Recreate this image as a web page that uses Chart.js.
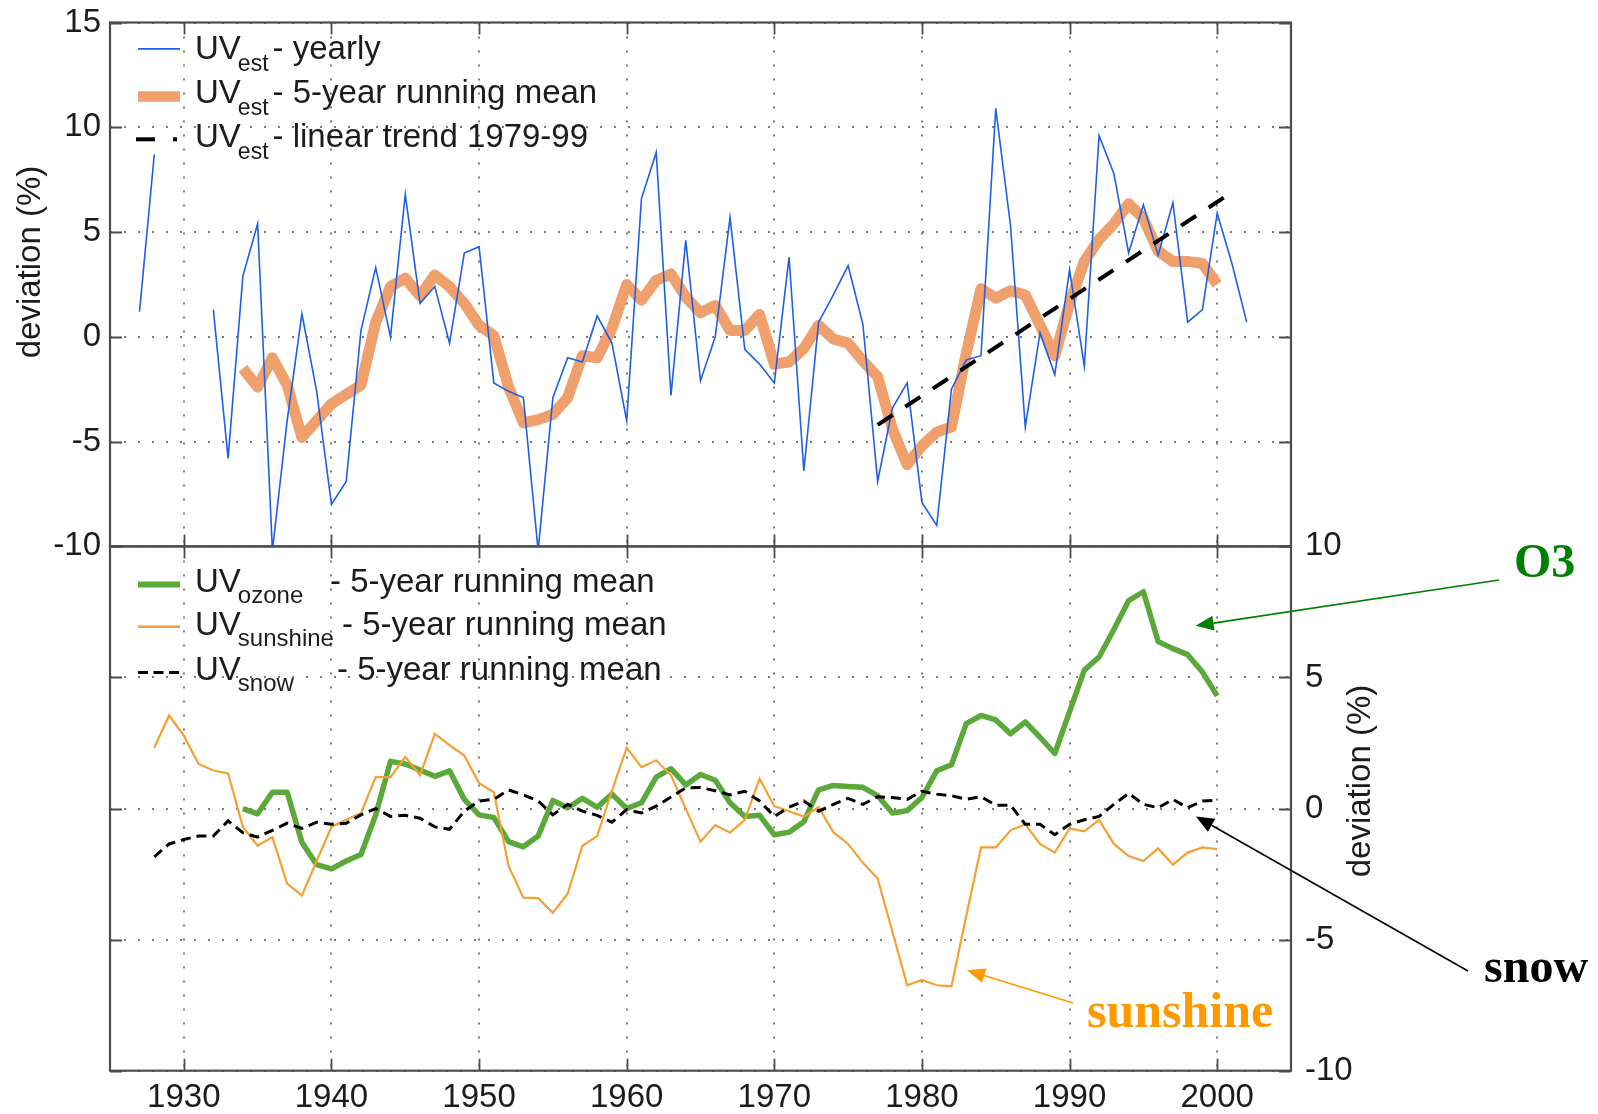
<!DOCTYPE html>
<html><head><meta charset="utf-8">
<script src="https://cdn.jsdelivr.net/npm/chart.js@4.4.1/dist/chart.umd.min.js"></script>
<style>
html,body{margin:0;padding:0;background:#fff;}
#wrap{position:relative;width:1598px;height:1114px;background:#fff;}
canvas{position:absolute;left:0;top:0;}
</style></head><body>
<div id="wrap"><canvas id="c1" width="1598" height="1114"></canvas><canvas id="c2" width="1598" height="1114"></canvas></div>
<script>
// ---------------- DATA ----------------
const xTicks = [1930, 1940, 1950, 1960, 1970, 1980, 1990, 2000];
const xTickLabels = ['1930', '1940', '1950', '1960', '1970', '1980', '1990', '2000'];
const topYTicks = [-10, -5, 0, 5, 10, 15];
const topYTickLabels = ['-10', '-5', '0', '5', '10', '15'];
const botYTicks = [-10, -5, 0, 5, 10];
const botYTickLabels = ['-10', '-5', '0', '5', '10'];

// UVest yearly, 1927..2002 (null = no data)
const yearlyStart = 1927;
const uvYearly = [1.2, 8.7, null, null, null, 1.3, -5.8, 2.9, 5.4, -10.2,
  -4.0, 1.1, -2.6, -8.0, -6.9, 0.3, 3.3, 0.0, 6.8, 1.6,
  2.4, -0.3, 4.0, 4.3, -2.2, -2.6, -2.9, -10.2, -2.9, -1.0,
  -1.2, 1.0, -0.3, -4.0, 6.6, 8.8, -2.8, 4.6, -2.1, 0.0,
  5.7, -0.6, -1.3, -2.2, 3.8, -6.4, 0.7, 2.0, 3.4, 0.6,
  -6.9, -3.4, -2.2, -7.9, -9.0, -2.5, -1.1, -0.9, 10.9, 5.3,
  -4.3, 0.2, -1.8, 3.2, -1.4, 9.6, 7.8, 4.0, 6.3, 3.9,
  6.4, 0.7, 1.3, 5.9, 3.5, 0.7];

// UVest 5-year running mean, 1934..2000
const meanStart = 1934;
const uvMean = [-1.5, -2.4, -1.0, -2.3, -4.8, -4.0, -3.2, -2.75, -2.3, 0.7,
  2.4, 2.8, 1.95, 2.95, 2.4, 1.6, 0.55, 0.05, -2.4, -4.1,
  -3.95, -3.7, -2.9, -0.9, -1.0, 0.4, 2.5, 1.75, 2.7, 3.0,
  1.9, 1.15, 1.5, 0.3, 0.3, 1.07, -1.3, -1.2, -0.55, 0.55,
  -0.1, -0.3, -1.15, -1.9, -4.4, -6.1, -5.2, -4.55, -4.3, -0.8,
  2.3, 1.85, 2.2, 2.0, 0.55, -0.9, 1.6, 3.6, 4.65, 5.4,
  6.35, 5.65, 4.1, 3.6, 3.6, 3.5, 2.5];

// UVest linear trend 1979-99 (drawn end points)
const trendYears = [1977, 2001];
const trendValues = [-4.2, 6.9];

// UVozone 5-year running mean, 1934..2000
const ozoneStart = 1934;
const uvOzone = [0.0, -0.2, 0.62, 0.62, -1.29, -2.14, -2.3, -2.0, -1.75, -0.24,
  1.8, 1.7, 1.47, 1.23, 1.44, 0.35, -0.24, -0.34, -1.26, -1.46,
  -1.05, 0.31, 0.03, 0.39, 0.05, 0.55, 0.0, 0.22, 1.2, 1.52,
  0.9, 1.3, 1.08, 0.22, -0.3, -0.26, -1.0, -0.9, -0.5, 0.71,
  0.88, 0.84, 0.81, 0.49, -0.17, -0.08, 0.42, 1.44, 1.67, 3.24,
  3.55, 3.38, 2.85, 3.31, 2.72, 2.1, 3.7, 5.28, 5.78, 6.83,
  7.93, 8.27, 6.37, 6.1, 5.87, 5.21, 4.3];

// UVsunshine 5-year running mean, 1928..2000
const sunStart = 1928;
const uvSunshine = [2.32, 3.55, 2.78, 1.7, 1.45, 1.34, -0.7, -1.42, -1.09, -2.86,
  -3.32, -2.0, -0.7, -0.43, -0.17, 1.2, 1.2, 1.97, 1.27, 2.85,
  2.42, 2.02, 0.97, 0.62, -2.2, -3.4, -3.42, -3.98, -3.25, -1.42,
  -1.05, 0.68, 2.32, 1.58, 1.84, 1.27, 0.0, -1.27, -0.63, -0.92,
  -0.43, 1.14, 0.09, -0.1, -0.3, 0.05, -0.9, -1.35, -2.07, -2.67,
  -4.7, -6.74, -6.54, -6.74, -6.78, -4.1, -1.48, -1.48, -0.83, -0.6,
  -1.35, -1.68, -0.76, -0.87, -0.43, -1.35, -1.81, -2.0, -1.52, -2.14,
  -1.68, -1.48, -1.55];

// UVsnow 5-year running mean, 1928..2000
const snowStart = 1928;
const uvSnow = [-1.84, -1.35, -1.18, -1.05, -1.05, -0.47, -0.92, -1.09, -0.83, -0.56,
  -0.76, -0.52, -0.6, -0.56, -0.24, 0.0, -0.3, -0.26, -0.37, -0.7,
  -0.79, -0.1, 0.29, 0.35, 0.71, 0.52, 0.29, -0.24, 0.16, -0.1,
  -0.26, -0.52, -0.04, -0.17, 0.09, 0.44, 0.79, 0.8, 0.68, 0.52,
  0.66, 0.29, -0.3, 0.05, 0.29, -0.1, 0.16, 0.39, 0.16, 0.45,
  0.42, 0.35, 0.66, 0.55, 0.49, 0.35, 0.45, 0.13, 0.13, -0.6,
  -0.6, -1.0, -0.6, -0.43, -0.3, 0.16, 0.58, 0.16, 0.03, 0.35,
  0.03, 0.29, 0.31];

// Annotations (label, arrow tip in data coordinates)
const annLabels = ['O3', 'snow', 'sunshine'];
const annTipYear = [1998.54, 1998.56, 1983.05];
const annTipValue = [6.97, -0.3, -6.17];

// ---------------- STYLE ----------------
const FONT = "'Liberation Sans', Arial, Helvetica, sans-serif";
const SERIF = "'Liberation Serif', 'Times New Roman', serif";
const TXT = '#1c1c1c';
const C_BLUE = '#1f5fe3';
const C_SALMON = '#efa06c';
const C_GREEN = '#5aa93a';
const C_SUN = '#f4a033';
const FRAME = '#4d4d4d';
const GRIDC = '#7a7a7a';
const GRIDDASH = [2, 12];
const LEG_SIZE = 33;

function pts(start, arr) { return arr.map((v, i) => ({ x: start + i, y: v })); }
function pairPts(xs, ys) { return xs.map((x, i) => ({ x: x, y: ys[i] })); }

const framePlugin = {
  id: 'frame',
  afterDraw(chart, args, opts) {
    const { ctx, chartArea: a, scales } = chart;
    const ys = scales[opts.yId];
    ctx.save();
    ctx.strokeStyle = FRAME;
    ctx.lineWidth = 1.8;
    const TL = 12;
    ctx.beginPath();
    xTicks.forEach(v => {
      const px = Math.round(scales.x.getPixelForValue(v)) + 0.5;
      ctx.moveTo(px, a.top); ctx.lineTo(px, a.top + TL);
      ctx.moveTo(px, a.bottom); ctx.lineTo(px, a.bottom - TL);
    });
    opts.yTicks.forEach(v => {
      const py = Math.round(ys.getPixelForValue(v)) + 0.5;
      ctx.moveTo(a.left, py); ctx.lineTo(a.left + TL, py);
      ctx.moveTo(a.right, py); ctx.lineTo(a.right - TL, py);
    });
    ctx.stroke();
    ctx.lineWidth = 2.2;
    ctx.strokeRect(a.left, a.top, a.right - a.left, a.bottom - a.top);
    ctx.restore();
  }
};

const legendPlugin = {
  id: 'uvlegend',
  afterDraw(chart, args, opts) {
    const { ctx, chartArea: a } = chart;
    ctx.save();
    opts.items.forEach(it => {
      const by = a.top + it.dy;
      const sy = by - it.sy;
      ctx.beginPath();
      ctx.strokeStyle = it.color;
      ctx.lineWidth = it.width;
      ctx.setLineDash(it.dash || []);
      ctx.lineCap = 'butt';
      ctx.moveTo(a.left + it.x0, sy); ctx.lineTo(a.left + it.x1, sy);
      ctx.stroke();
      ctx.setLineDash([]);
      if (it.dot) { ctx.fillStyle = it.color; ctx.fillRect(a.left + it.dot - 2, sy - 2, 4, 4); }
      ctx.fillStyle = TXT;
      ctx.textAlign = 'left';
      ctx.textBaseline = 'alphabetic';
      ctx.font = LEG_SIZE + 'px ' + FONT;
      const ux = a.left + 85;
      ctx.fillText('UV', ux, by);
      const uvW = ctx.measureText('UV').width;
      ctx.font = it.subSize + 'px ' + FONT;
      const sx = ux + uvW - 3;
      ctx.fillText(it.sub, sx, by + it.subDy);
      const subW = ctx.measureText(it.sub).width;
      ctx.font = LEG_SIZE + 'px ' + FONT;
      const tx = it.textX != null ? a.left + it.textX : sx + subW + 4;
      ctx.fillText(it.text, tx, by);
    });
    ctx.restore();
  }
};

const yTitlePlugin = {
  id: 'ytitle',
  afterDraw(chart, args, opts) {
    const ctx = chart.ctx;
    ctx.save();
    ctx.translate(opts.x, opts.y);
    ctx.rotate(-Math.PI / 2);
    ctx.font = '33px ' + FONT;
    ctx.fillStyle = TXT;
    ctx.textAlign = 'center';
    ctx.textBaseline = 'middle';
    ctx.fillText(opts.text, 0, 0);
    ctx.restore();
  }
};

const annPlugin = {
  id: 'ann',
  afterDraw(chart, args, opts) {
    const { ctx, scales } = chart;
    ctx.save();
    annLabels.forEach((lab, i) => {
      const tx = scales.x.getPixelForValue(annTipYear[i]);
      const ty = scales.y.getPixelForValue(annTipValue[i]);
      const [fx, fy] = opts.from[i];
      const col = opts.colors[i];
      const ang = Math.atan2(ty - fy, tx - fx);
      const L = 18, W = 7.5;
      const bx = tx - L * Math.cos(ang), by = ty - L * Math.sin(ang);
      ctx.strokeStyle = col; ctx.fillStyle = col; ctx.lineWidth = 1.6;
      ctx.beginPath(); ctx.moveTo(fx, fy); ctx.lineTo(bx, by); ctx.stroke();
      ctx.beginPath();
      ctx.moveTo(tx, ty);
      ctx.lineTo(bx + W * Math.sin(ang), by - W * Math.cos(ang));
      ctx.lineTo(bx - W * Math.sin(ang), by + W * Math.cos(ang));
      ctx.closePath(); ctx.fill();
      ctx.font = 'bold ' + opts.sizes[i] + 'px ' + SERIF;
      ctx.textAlign = 'left'; ctx.textBaseline = 'alphabetic';
      ctx.fillText(lab, opts.textPos[i][0], opts.textPos[i][1]);
    });
    ctx.restore();
  }
};

Chart.defaults.font.family = FONT;

const noPad = s => { s.paddingTop = 0; s.paddingBottom = 0; s.paddingLeft = 0; s.paddingRight = 0; };

const xScaleBase = {
  type: 'linear', min: 1925, max: 2005,
  afterBuildTicks: s => { s.ticks = xTicks.map(v => ({ value: v })); },
  grid: { color: GRIDC, lineWidth: 2, drawTicks: false },
  border: { display: false, dash: GRIDDASH }
};

// ---------------- TOP CHART ----------------
new Chart(document.getElementById('c1'), {
  type: 'line',
  data: {
    datasets: [
      { data: pairPts(trendYears, trendValues), borderColor: '#000', borderWidth: 4, borderDash: [18, 15], order: 0 },
      { data: pts(yearlyStart, uvYearly), borderColor: C_BLUE, borderWidth: 1.6, spanGaps: false, order: 1 },
      { data: pts(meanStart, uvMean), borderColor: C_SALMON, borderWidth: 11, borderJoinStyle: 'round', order: 2 }
    ]
  },
  options: {
    responsive: false, animation: false, devicePixelRatio: 1,
    parsing: false,
    elements: { point: { radius: 0 }, line: { tension: 0 } },
    datasets: { line: { clip: 0 } },
    layout: { padding: { left: 0, top: 22.5, right: 307, bottom: 567.6 } },
    plugins: {
      legend: { display: false }, tooltip: { enabled: false },
      frame: { yId: 'y', yTicks: topYTicks },
      ytitle: { x: 31, y: 262, text: 'deviation (%)' },
      uvlegend: { items: [
        { dy: 36.7, sy: 10.3, x0: 28, x1: 70, color: C_BLUE, width: 1.6, sub: 'est', subSize: 23, subDy: 12, text: '- yearly' },
        { dy: 80.7, sy: 6.8, x0: 28, x1: 70, color: C_SALMON, width: 10.5, sub: 'est', subSize: 23, subDy: 12, text: '- 5-year running mean' },
        { dy: 124.2, sy: 7.4, x0: 26, x1: 45, color: '#000', width: 4, dot: 65, sub: 'est', subSize: 23, subDy: 12, text: '- linear trend 1979-99' }
      ] }
    },
    scales: {
      x: Object.assign({}, xScaleBase, {
        position: 'bottom',
        ticks: { display: false },
        afterFit: s => { s.height = 0; noPad(s); }
      }),
      y: {
        type: 'linear', min: -10, max: 15, position: 'left',
        afterBuildTicks: s => { s.ticks = topYTicks.map(v => ({ value: v })); },
        afterFit: s => { s.width = 110; noPad(s); },
        ticks: { font: { size: 33, family: FONT }, color: TXT, padding: 9,
          callback: v => topYTickLabels[topYTicks.indexOf(v)] },
        grid: { color: GRIDC, lineWidth: 2, drawTicks: false },
        border: { display: false, dash: GRIDDASH }
      }
    }
  },
  plugins: [framePlugin, legendPlugin, yTitlePlugin]
});

// ---------------- BOTTOM CHART ----------------
new Chart(document.getElementById('c2'), {
  type: 'line',
  data: {
    datasets: [
      { data: pts(snowStart, uvSnow), borderColor: '#000', borderWidth: 3, borderDash: [10, 6], order: 0 },
      { data: pts(sunStart, uvSunshine), borderColor: C_SUN, borderWidth: 2.2, order: 1 },
      { data: pts(ozoneStart, uvOzone), borderColor: C_GREEN, borderWidth: 5.5, borderJoinStyle: 'round', order: 2 }
    ]
  },
  options: {
    responsive: false, animation: false, devicePixelRatio: 1,
    parsing: false,
    elements: { point: { radius: 0 }, line: { tension: 0 } },
    datasets: { line: { clip: 0 } },
    layout: { padding: { left: 110, top: 546.4, right: 0, bottom: 0 } },
    plugins: {
      legend: { display: false }, tooltip: { enabled: false },
      frame: { yId: 'y', yTicks: botYTicks },
      ytitle: { x: 1361, y: 781, text: 'deviation (%)' },
      uvlegend: { items: [
        { dy: 45.2, sy: 7, x0: 28, x1: 70, color: C_GREEN, width: 6, sub: 'ozone', subSize: 24, subDy: 11, textX: 220, text: '- 5-year running mean' },
        { dy: 88.3, sy: 8, x0: 28, x1: 70, color: C_SUN, width: 2.4, sub: 'sunshine', subSize: 24, subDy: 11, textX: 232, text: '- 5-year running mean' },
        { dy: 133.1, sy: 7, x0: 28, x1: 70, color: '#000', width: 3, dash: [10, 5.5], sub: 'snow', subSize: 24, subDy: 11, textX: 227, text: '- 5-year running mean' }
      ] },
      ann: {
        from: [[1499, 580], [1468, 971], [1073, 1003]],
        colors: ['#008000', '#000000', '#ff9900'],
        textPos: [[1514, 577], [1484, 982], [1087, 1027]],
        sizes: [48, 48, 50]
      }
    },
    scales: {
      x: Object.assign({}, xScaleBase, {
        position: 'bottom',
        ticks: { font: { size: 33, family: FONT }, color: TXT, padding: 7.5, maxRotation: 0, autoSkip: false,
          callback: v => xTickLabels[xTicks.indexOf(v)] },
        afterFit: s => { s.height = 43.3; noPad(s); }
      }),
      y: {
        type: 'linear', min: -10, max: 10, position: 'right',
        afterBuildTicks: s => { s.ticks = botYTicks.map(v => ({ value: v })); },
        afterFit: s => { s.width = 307; noPad(s); },
        ticks: { font: { size: 33, family: FONT }, color: TXT, padding: 14,
          callback: v => botYTickLabels[botYTicks.indexOf(v)] },
        grid: { color: GRIDC, lineWidth: 2, drawTicks: false },
        border: { display: false, dash: GRIDDASH }
      }
    }
  },
  plugins: [framePlugin, legendPlugin, yTitlePlugin, annPlugin]
});
</script>
</body></html>
